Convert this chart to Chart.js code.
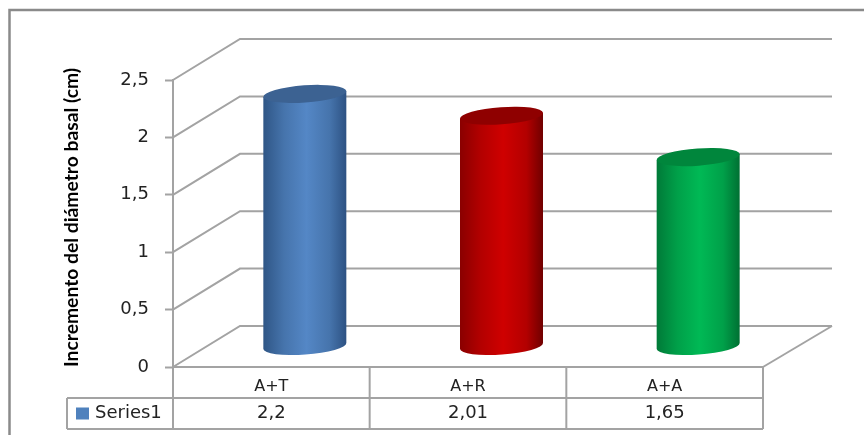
<!DOCTYPE html>
<html>
<head>
<meta charset="utf-8">
<style>
  html, body { margin: 0; padding: 0; background: #fff; }
  #wrap { position: relative; width: 864px; height: 435px; overflow: hidden; }
</style>
<script src="https://cdn.jsdelivr.net/npm/chart.js@4/dist/chart.umd.js"></script>
</head>
<body>
<div id="wrap"><canvas id="c" width="864" height="435"></canvas></div>
<script>
const categories = ['A+T', 'A+R', 'A+A'];
const seriesName = 'Series1';
const seriesValues = [2.2, 2.01, 1.65];
const tableLabels = ['2,2', '2,01', '1,65'];
const axisTitle = 'Incremento del diámetro basal (cm)';

// Side, shoulder, dark-edge and cap shades of each cylinder
const baseColors = ['#5487c6', '#cf0000', '#00b955'];
const shoulderColors = ['#4674ac', '#b30000', '#00a049'];
const leftEdgeColors = ['#2f5686', '#8a0000', '#007a38'];
const rightEdgeColors = ['#2d5283', '#700000', '#007033'];
const capColors = ['#3c6292', '#8f0000', '#00863c'];
const legendSwatch = '#4f81bd';

const LINE = '#a3a3a3';
const TEXT = '#222222';
const FONT = '"DejaVu Sans", sans-serif';
const DEPTH_X = 67, DEPTH_Y = 41;   // receding offset of the 3D box
const TABLE_LEFT = 67;
const ROW_H = 31;

function seg(ctx, x1, y1, x2, y2) {
  ctx.beginPath(); ctx.moveTo(x1, y1); ctx.lineTo(x2, y2); ctx.stroke();
}

const boxAndTable = {
  id: 'boxAndTable',
  beforeDraw(chart) {
    const { ctx, chartArea: a, scales: { y } } = chart;
    ctx.save();
    // outer frame: left and top edges only
    ctx.strokeStyle = '#8a8a8a';
    ctx.lineWidth = 2.5;
    ctx.beginPath();
    ctx.moveTo(9.5, 435); ctx.lineTo(9.5, 10); ctx.lineTo(864, 10);
    ctx.stroke();

    ctx.strokeStyle = LINE;
    ctx.lineWidth = 2;
    // wall gridlines at each value tick
    y.ticks.forEach(t => {
      const py = y.getPixelForValue(t.value);
      ctx.beginPath();
      ctx.moveTo(a.left, py);
      ctx.lineTo(a.left + DEPTH_X, py - DEPTH_Y);
      ctx.lineTo(a.right + DEPTH_X + 2, py - DEPTH_Y);
      ctx.stroke();
    });
    // right floor edge
    seg(ctx, a.right, a.bottom, a.right + DEPTH_X + 2, a.bottom - DEPTH_Y);

    // data table
    const r1 = a.bottom + ROW_H, r2 = a.bottom + 2 * ROW_H;
    seg(ctx, a.left, a.bottom, a.right, a.bottom);
    seg(ctx, TABLE_LEFT, r1, a.right, r1);
    seg(ctx, TABLE_LEFT, r2, a.right, r2);
    seg(ctx, TABLE_LEFT, r1, TABLE_LEFT, r2);
    const step = (a.right - a.left) / categories.length;
    for (let i = 0; i <= categories.length; i++) {
      const px = a.left + i * step;
      seg(ctx, px, a.bottom, px, r2);
    }
    ctx.restore();
  },
  afterDraw(chart) {
    const { ctx, chartArea: a, scales: { x } } = chart;
    const mid = a.bottom + ROW_H * 1.5;
    ctx.save();
    ctx.fillStyle = TEXT;
    ctx.font = '18px ' + FONT;
    ctx.textAlign = 'center';
    ctx.textBaseline = 'middle';
    tableLabels.forEach((s, i) => ctx.fillText(s, x.getPixelForValue(i), mid));
    ctx.textAlign = 'left';
    ctx.fillText(seriesName, 95, mid);
    ctx.fillStyle = legendSwatch;
    ctx.fillRect(76, mid - 6, 13, 12);
    ctx.restore();
  }
};

const cylinders = {
  id: 'cylinders',
  beforeDatasetDraw(chart, args) {
    const { ctx } = chart;
    const meta = chart.getDatasetMeta(args.index);
    const tilt = -4.1 * Math.PI / 180;
    meta.data.forEach((bar, i) => {
      const p = bar.getProps(['x', 'y', 'base', 'width'], true);
      const cx = p.x + DEPTH_X / 2;
      const top = p.y - DEPTH_Y / 2;
      const bottom = p.base - DEPTH_Y / 2;
      const rx = p.width / 2, ry = 8.6;
      const rise = rx * Math.tan(-tilt);

      const grad = ctx.createLinearGradient(cx - rx, 0, cx + rx, 0);
      grad.addColorStop(0, leftEdgeColors[i]);
      grad.addColorStop(0.25, shoulderColors[i]);
      grad.addColorStop(0.52, baseColors[i]);
      grad.addColorStop(0.8, shoulderColors[i]);
      grad.addColorStop(1, rightEdgeColors[i]);

      ctx.save();
      ctx.fillStyle = grad;
      ctx.beginPath();
      ctx.moveTo(cx - rx, top + rise);
      ctx.lineTo(cx + rx, top - rise);
      ctx.lineTo(cx + rx, bottom - rise);
      ctx.ellipse(cx, bottom, rx / Math.cos(tilt), ry, tilt, 0, Math.PI);
      ctx.closePath();
      ctx.fill();
      ctx.fillStyle = capColors[i];
      ctx.beginPath();
      ctx.ellipse(cx, top, rx / Math.cos(tilt), ry, tilt, 0, Math.PI * 2);
      ctx.fill();
      ctx.restore();
    });
    return false;
  }
};

new Chart(document.getElementById('c'), {
  type: 'bar',
  data: {
    labels: categories,
    datasets: [{
      label: seriesName,
      data: seriesValues,
      backgroundColor: baseColors,
      categoryPercentage: 1,
      barPercentage: 0.422
    }]
  },
  plugins: [boxAndTable, cylinders],
  options: {
    responsive: false,
    animation: false,
    layout: { padding: { left: 0, top: 80, right: 101, bottom: 0 } },
    plugins: { legend: { display: false }, tooltip: { enabled: false } },
    scales: {
      x: {
        afterFit(s) { s.height = 68; },
        grid: { display: false, drawTicks: false },
        border: { display: false },
        ticks: { color: TEXT, font: { family: FONT, size: 16 }, padding: 10 }
      },
      y: {
        min: 0,
        max: 2.5,
        afterFit(s) { s.width = 173; },
        grid: { drawOnChartArea: false, tickLength: 8, tickColor: LINE, tickWidth: 2 },
        border: { color: LINE, width: 2 },
        ticks: {
          stepSize: 0.5,
          color: TEXT,
          padding: 16,
          font: { family: FONT, size: 18 },
          callback: v => String(v).replace('.', ',')
        },
        title: {
          display: true,
          text: axisTitle,
          align: 'start',
          color: '#000',
          font: { family: 'Lato, sans-serif', size: 19.3, weight: 'bold' },
          padding: { top: 60, bottom: 0 }
        }
      }
    }
  }
});
</script>
</body>
</html>
